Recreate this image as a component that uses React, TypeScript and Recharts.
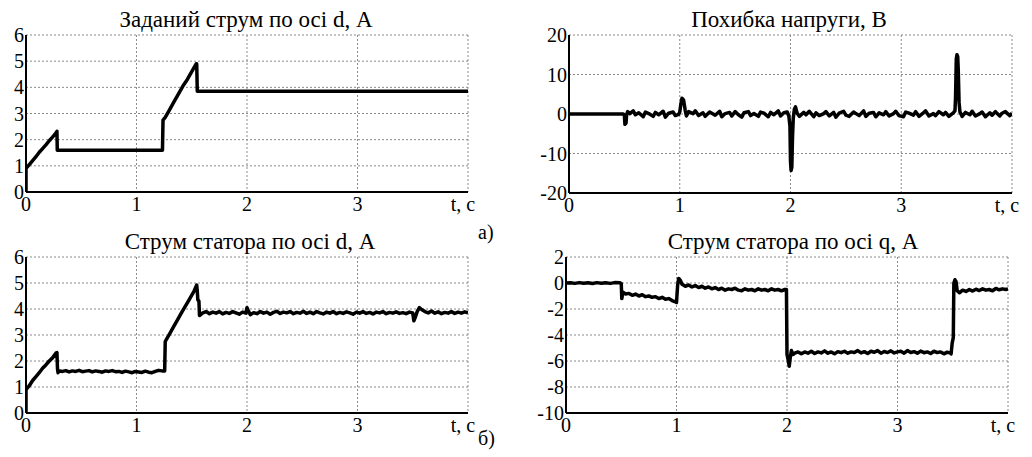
import React from "react";
import { CartesianGrid, Line, LineChart, XAxis, YAxis } from "recharts";

// time axis (s)
const timeTicks = [0, 1, 2, 3, 4];
const timeLabel = "t, c";

// a) Заданий струм по осі d, А
const refDT = [0, 0, 0.03, 0.06, 0.09, 0.12, 0.15, 0.18, 0.21, 0.24, 0.27, 0.28, 0.283, 1.235, 1.24, 1.26, 1.3, 1.34, 1.38, 1.42, 1.46, 1.5, 1.54, 1.545, 1.55, 4];
const refDV = [0, 0.9, 1.05, 1.2, 1.35, 1.52, 1.66, 1.8, 1.96, 2.1, 2.25, 2.32, 1.6, 1.6, 2.75, 2.85, 3.15, 3.45, 3.75, 4.05, 4.3, 4.6, 4.9, 4.9, 3.85, 3.85];

// a) Похибка напруги, В
const errT = [0, 0.49, 0.5, 0.505, 0.515, 0.52, 0.53, 0.55, 0.58, 0.6, 0.63, 0.67, 0.69, 0.72, 0.76, 0.78, 0.81, 0.85, 0.87, 0.9, 0.94, 0.96, 0.99, 1.0, 1.01, 1.02, 1.035, 1.05, 1.06, 1.08, 1.12, 1.14, 1.17, 1.21, 1.23, 1.27, 1.29, 1.32, 1.36, 1.38, 1.41, 1.45, 1.47, 1.5, 1.53, 1.56, 1.58, 1.62, 1.64, 1.67, 1.71, 1.73, 1.76, 1.8, 1.82, 1.85, 1.89, 1.91, 1.94, 1.97, 1.985, 1.995, 2.0, 2.005, 2.012, 2.018, 2.025, 2.035, 2.045, 2.06, 2.08, 2.12, 2.14, 2.17, 2.21, 2.23, 2.26, 2.3, 2.32, 2.35, 2.39, 2.41, 2.44, 2.48, 2.5, 2.53, 2.57, 2.59, 2.62, 2.66, 2.68, 2.71, 2.75, 2.77, 2.8, 2.84, 2.86, 2.89, 2.93, 2.95, 2.98, 3.02, 3.04, 3.07, 3.11, 3.13, 3.16, 3.2, 3.22, 3.25, 3.29, 3.31, 3.34, 3.38, 3.4, 3.43, 3.47, 3.485, 3.49, 3.497, 3.503, 3.51, 3.515, 3.522, 3.53, 3.55, 3.58, 3.62, 3.64, 3.67, 3.71, 3.73, 3.76, 3.8, 3.82, 3.85, 3.89, 3.91, 3.94, 3.98, 4.0];
const errV = [0, 0, -0.3, -2.6, -2.3, -0.2, 0.6, 0.1, 0.8, -0.2, 0.3, -0.7, 0.5, 0.1, -0.6, 0.4, -0.2, 0.7, -0.8, 0.2, 0.5, -0.4, -0.1, 0.5, 2.5, 4, 3.5, 0.8, -0.5, 0.6, 0.1, 0.8, -0.4, 0.3, -0.6, 0.5, 0.2, -0.3, 0.7, -0.7, 0.1, 0.4, -0.5, 0.6, -0.2, -0.8, 0.3, 0.6, -0.4, 0.1, -0.6, 0.5, 0.2, -0.7, 0.4, -0.2, 0.8, -0.5, 0.3, 0.5, -0.5, -3, -12, -14.3, -13.5, -6, -1, 1.2, 1.8, 0.2, -0.6, 0.4, -0.2, 0.7, -0.7, 0.3, -0.4, 0.1, 0.6, -0.5, 0.4, -0.8, 0.2, 0.7, -0.3, -0.6, 0.5, 0.1, -0.4, 0.8, -0.6, 0.2, 0.4, -0.7, 0.3, -0.2, 0.6, -0.5, 0.1, 0.7, -0.4, -0.7, 0.5, 0.2, -0.3, 0.6, -0.6, 0.3, 0.8, -0.5, 0.1, -0.4, 0.6, -0.2, 0.4, -0.6, 0.3, 0.8, 4, 14, 15, 14.5, 11, 3, 0.5, -0.6, 0.4, -0.2, 0.7, -0.5, 0.1, 0.5, -0.7, 0.3, -0.3, 0.6, -0.5, 0.2, 0.6, -0.4, 0.2];

// б) Струм статора по осі d, А
const measDT = [0, 0, 0.03, 0.06, 0.09, 0.12, 0.15, 0.18, 0.21, 0.24, 0.27, 0.28, 0.285, 0.29, 0.3, 0.33, 0.36, 0.39, 0.42, 0.45, 0.48, 0.51, 0.54, 0.57, 0.6, 0.63, 0.66, 0.69, 0.72, 0.75, 0.78, 0.81, 0.84, 0.87, 0.9, 0.93, 0.96, 0.99, 1.02, 1.05, 1.08, 1.11, 1.14, 1.17, 1.2, 1.23, 1.255, 1.26, 1.28, 1.31, 1.34, 1.37, 1.4, 1.43, 1.46, 1.49, 1.52, 1.545, 1.55, 1.555, 1.565, 1.57, 1.6, 1.63, 1.66, 1.69, 1.72, 1.75, 1.78, 1.81, 1.84, 1.87, 1.9, 1.93, 1.96, 1.99, 2.0, 2.01, 2.03, 2.06, 2.09, 2.12, 2.15, 2.18, 2.21, 2.24, 2.27, 2.3, 2.33, 2.36, 2.39, 2.42, 2.45, 2.48, 2.51, 2.54, 2.57, 2.6, 2.63, 2.66, 2.69, 2.72, 2.75, 2.78, 2.81, 2.84, 2.87, 2.9, 2.93, 2.96, 2.99, 3.02, 3.05, 3.08, 3.11, 3.14, 3.17, 3.2, 3.23, 3.26, 3.29, 3.32, 3.35, 3.38, 3.41, 3.44, 3.47, 3.5, 3.51, 3.52, 3.54, 3.56, 3.58, 3.61, 3.64, 3.67, 3.7, 3.73, 3.76, 3.79, 3.82, 3.85, 3.88, 3.91, 3.94, 3.97, 4.0];
const measDV = [0, 0.9, 1.05, 1.25, 1.4, 1.55, 1.72, 1.85, 2.0, 2.12, 2.3, 2.32, 1.7, 1.55, 1.62, 1.6, 1.63, 1.58, 1.62, 1.6, 1.64, 1.59, 1.61, 1.63, 1.58, 1.62, 1.6, 1.57, 1.62, 1.6, 1.63, 1.59, 1.6, 1.56, 1.61, 1.58, 1.55, 1.6, 1.58, 1.56, 1.61, 1.57, 1.55, 1.6, 1.64, 1.62, 1.62, 2.75, 2.9, 3.12, 3.35, 3.57, 3.8, 4.02, 4.24, 4.46, 4.68, 4.92, 4.7, 4.35, 4.3, 3.75, 3.85, 3.9, 3.82, 3.88, 3.84, 3.9, 3.81, 3.87, 3.83, 3.9, 3.85, 3.8, 3.88, 3.84, 4.05, 3.95, 3.78, 3.86, 3.82, 3.9, 3.84, 3.88, 3.8, 3.87, 3.91, 3.83, 3.88, 3.85, 3.9, 3.82, 3.87, 3.84, 3.91, 3.83, 3.88, 3.82, 3.9, 3.85, 3.81, 3.88, 3.84, 3.9, 3.82, 3.87, 3.83, 3.89, 3.85, 3.8, 3.88, 3.84, 3.9, 3.83, 3.87, 3.81, 3.88, 3.85, 3.9, 3.82, 3.87, 3.84, 3.89, 3.83, 3.86, 3.82, 3.88, 3.85, 3.55, 3.65, 3.9, 4.05, 3.98, 3.9, 3.85, 3.92, 3.84, 3.89, 3.82, 3.87, 3.84, 3.9, 3.83, 3.88, 3.84, 3.89, 3.85];

// б) Струм статора по осі q, А
const qT = [0, 0.04, 0.08, 0.12, 0.16, 0.2, 0.24, 0.28, 0.32, 0.36, 0.4, 0.44, 0.49, 0.5, 0.505, 0.515, 0.54, 0.57, 0.6, 0.63, 0.66, 0.69, 0.72, 0.75, 0.78, 0.81, 0.84, 0.87, 0.9, 0.93, 0.96, 0.99, 1.0, 1.01, 1.02, 1.035, 1.05, 1.08, 1.11, 1.14, 1.17, 1.2, 1.23, 1.26, 1.29, 1.32, 1.35, 1.38, 1.41, 1.44, 1.47, 1.5, 1.53, 1.56, 1.59, 1.62, 1.65, 1.68, 1.71, 1.74, 1.77, 1.8, 1.83, 1.86, 1.89, 1.92, 1.95, 1.98, 1.995, 2.0, 2.01, 2.02, 2.03, 2.04, 2.055, 2.07, 2.1, 2.13, 2.16, 2.19, 2.22, 2.25, 2.28, 2.31, 2.34, 2.37, 2.4, 2.43, 2.46, 2.49, 2.52, 2.55, 2.58, 2.61, 2.64, 2.67, 2.7, 2.73, 2.76, 2.79, 2.82, 2.85, 2.88, 2.91, 2.94, 2.97, 3.0, 3.03, 3.06, 3.09, 3.12, 3.15, 3.18, 3.21, 3.24, 3.27, 3.3, 3.33, 3.36, 3.39, 3.42, 3.45, 3.48, 3.485, 3.495, 3.505, 3.51, 3.52, 3.53, 3.54, 3.56, 3.59, 3.62, 3.65, 3.68, 3.71, 3.74, 3.77, 3.8, 3.83, 3.86, 3.89, 3.92, 3.95, 3.98, 4.0];
const qV = [0, 0.02, -0.03, 0.03, -0.02, 0.02, -0.04, 0.03, -0.02, 0.02, -0.03, 0.03, 0.02, -0.05, -1.2, -0.7, -0.85, -0.8, -0.95, -0.85, -1.0, -0.9, -1.05, -1.0, -1.1, -1.05, -1.2, -1.1, -1.25, -1.2, -1.35, -1.45, -1.5, -0.2, 0.35, 0.2, -0.1, -0.25, -0.15, -0.3, -0.2, -0.35, -0.25, -0.4, -0.3, -0.45, -0.35, -0.5, -0.4, -0.55, -0.45, -0.5, -0.4, -0.55, -0.6, -0.45, -0.55, -0.5, -0.6, -0.45, -0.55, -0.5, -0.6, -0.45, -0.55, -0.5, -0.6, -0.5, -0.5, -5.5, -5.9, -6.4, -5.7, -5.2, -5.5, -5.4, -5.3, -5.45, -5.3, -5.4, -5.25, -5.42, -5.3, -5.38, -5.22, -5.4, -5.3, -5.45, -5.28, -5.36, -5.25, -5.4, -5.3, -5.35, -5.2, -5.38, -5.28, -5.42, -5.25, -5.33, -5.2, -5.4, -5.27, -5.35, -5.22, -5.38, -5.3, -5.25, -5.4, -5.2, -5.35, -5.28, -5.4, -5.24, -5.36, -5.3, -5.42, -5.25, -5.35, -5.3, -5.45, -5.32, -5.4, -5.45, -4.6, -4.2, 0, 0.25, 0.1, -0.6, -0.75, -0.55, -0.65, -0.5, -0.62, -0.48, -0.58, -0.45, -0.55, -0.5, -0.6, -0.42, -0.52, -0.45, -0.5, -0.45];

const rows = (t: number[], v: number[]) => t.map((x, i) => ({ t: x, v: v[i] }));

const font = "'Liberation Serif', 'Times New Roman', Times, 'DejaVu Serif', serif";

function TimeTick(props: any) {
  const { x, y, payload } = props;
  const last = payload.value === 4;
  return (
    <text x={x + (last ? -5 : 0)} y={y + 5} dy="0.71em" textAnchor="middle" fontSize={20} fontFamily={font} fill="#000">
      {last ? timeLabel : payload.value}
    </text>
  );
}

type PanelProps = {
  title: string;
  data: { t: number; v: number }[];
  yDomain: [number, number];
  yTicks: number[];
  left: number;
  top: number;
  width: number;
  height: number;
  axisWidth: number;
  marginTop: number;
  marginRight: number;
  titleX: number;
  titleY: number;
};

function Panel(p: PanelProps) {
  return (
    <>
      <div
        style={{
          position: "absolute",
          left: p.titleX - 200,
          width: 400,
          top: p.titleY,
          textAlign: "center",
          fontFamily: font,
          fontSize: 23,
          lineHeight: "24px",
          color: "#000",
          whiteSpace: "nowrap",
        }}
      >
        {p.title}
      </div>
      <div style={{ position: "absolute", left: p.left, top: p.top }}>
        <LineChart
          width={p.width}
          height={p.height}
          data={p.data}
          margin={{ top: p.marginTop, right: p.marginRight, bottom: 0, left: 0 }}
          style={{ overflow: "visible" }}
        >
          <CartesianGrid stroke="#8a8a8a" strokeDasharray="2 2" strokeWidth={1} />
          <XAxis
            dataKey="t"
            type="number"
            domain={[0, 4]}
            ticks={timeTicks}
            height={44}
            tickLine={false}
            tickSize={0}
            tickMargin={0}
            axisLine={{ stroke: "#000", strokeWidth: 2 }}
            tick={<TimeTick />}
            allowDataOverflow
          />
          <XAxis xAxisId="top" orientation="top" type="number" domain={[0, 4]} height={0} tick={false} tickLine={false} axisLine={{ stroke: "#111", strokeWidth: 1.5 }} />
          <YAxis
            type="number"
            domain={p.yDomain}
            ticks={p.yTicks}
            width={p.axisWidth}
            tickLine={false}
            tickSize={0}
            tickMargin={2}
            interval={0}
            axisLine={{ stroke: "#000", strokeWidth: 2 }}
            tick={{ fontSize: 20, fontFamily: font, fill: "#000" }}
            allowDataOverflow
          />
          <YAxis yAxisId="right" orientation="right" type="number" domain={p.yDomain} width={0} tick={false} tickLine={false} axisLine={{ stroke: "#111", strokeWidth: 1.5 }} />
          <Line dataKey="v" type="linear" stroke="#000" strokeWidth={3.5} dot={false} isAnimationActive={false} strokeLinejoin="round" />
        </LineChart>
      </div>
    </>
  );
}

export default function App() {
  return (
    <div style={{ position: "absolute", left: 0, top: 0, width: 1032, height: 457, background: "#fff", overflow: "hidden" }}>
      <Panel
        title="Заданий струм по осі d, А"
        data={rows(refDT, refDV)}
        yDomain={[0, 6]}
        yTicks={[0, 1, 2, 3, 4, 5, 6]}
        left={0}
        top={0}
        width={480}
        height={236}
        axisWidth={26}
        marginTop={35}
        marginRight={12}
        titleX={246}
        titleY={8}
      />
      <Panel
        title="Похибка напруги, В"
        data={rows(errT, errV)}
        yDomain={[-20, 20]}
        yTicks={[-20, -10, 0, 10, 20]}
        left={520}
        top={0}
        width={512}
        height={237}
        axisWidth={49}
        marginTop={35}
        marginRight={20}
        titleX={789}
        titleY={8}
      />
      <Panel
        title="Струм статора по осі d, А"
        data={rows(measDT, measDV)}
        yDomain={[0, 6]}
        yTicks={[0, 1, 2, 3, 4, 5, 6]}
        left={0}
        top={220}
        width={480}
        height={237}
        axisWidth={26}
        marginTop={37}
        marginRight={12}
        titleX={250}
        titleY={230}
      />
      <Panel
        title="Струм статора по осі q, А"
        data={rows(qT, qV)}
        yDomain={[-10, 2]}
        yTicks={[-10, -8, -6, -4, -2, 0, 2]}
        left={520}
        top={220}
        width={512}
        height={237}
        axisWidth={46}
        marginTop={37}
        marginRight={24}
        titleX={793}
        titleY={230}
      />
      <div style={{ position: "absolute", left: 478, top: 222, fontFamily: font, fontSize: 20, lineHeight: "20px" }}>а)</div>
      <div style={{ position: "absolute", left: 478, top: 428, fontFamily: font, fontSize: 20, lineHeight: "20px" }}>б)</div>
    </div>
  );
}
